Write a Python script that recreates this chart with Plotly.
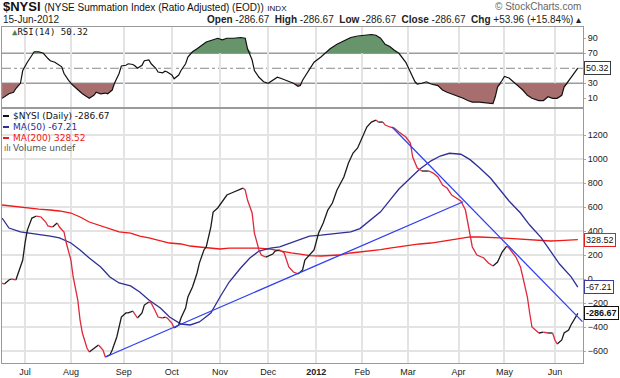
import plotly.graph_objects as go

# ---------------- data ----------------
price_dates = ["2011-06-17","2011-06-20","2011-06-22","2011-06-23","2011-06-27","2011-06-28","2011-06-30",
"2011-07-01","2011-07-05","2011-07-07","2011-07-11","2011-07-13","2011-07-15","2011-07-18","2011-07-20","2011-07-22",
"2011-07-25","2011-07-27","2011-07-28","2011-08-01","2011-08-02","2011-08-04","2011-08-05","2011-08-08","2011-08-10",
"2011-08-11","2011-08-15","2011-08-17","2011-08-19","2011-08-22","2011-08-24","2011-08-25","2011-08-29","2011-08-31",
"2011-09-02","2011-09-06","2011-09-08","2011-09-09","2011-09-12","2011-09-14","2011-09-15","2011-09-19","2011-09-20",
"2011-09-22","2011-09-23","2011-09-27","2011-09-28","2011-09-29","2011-10-03","2011-10-04","2011-10-06","2011-10-07",
"2011-10-11","2011-10-12","2011-10-14","2011-10-18","2011-10-19","2011-10-21","2011-10-24","2011-10-26","2011-10-27",
"2011-10-31","2011-11-02","2011-11-04","2011-11-08","2011-11-10","2011-11-15","2011-11-16","2011-11-17","2011-11-21",
"2011-11-22","2011-11-25","2011-11-28","2011-11-30","2011-12-05","2011-12-06","2011-12-08","2011-12-12","2011-12-13",
"2011-12-14","2011-12-16","2011-12-20","2011-12-22","2011-12-23","2011-12-28","2011-12-30","2012-01-04","2012-01-06",
"2012-01-10","2012-01-12","2012-01-17","2012-01-20","2012-01-24","2012-01-26","2012-01-30","2012-02-01","2012-02-03",
"2012-02-07","2012-02-09","2012-02-10","2012-02-14","2012-02-15","2012-02-17","2012-02-22","2012-02-24","2012-02-29",
"2012-03-02","2012-03-05","2012-03-07","2012-03-09","2012-03-14","2012-03-16","2012-03-20","2012-03-22","2012-03-26",
"2012-03-28","2012-03-30","2012-04-03","2012-04-05","2012-04-09","2012-04-10","2012-04-11","2012-04-13","2012-04-18",
"2012-04-20","2012-04-24","2012-04-26","2012-04-30","2012-05-02","2012-05-03","2012-05-08","2012-05-10","2012-05-11",
"2012-05-15","2012-05-16","2012-05-17","2012-05-22","2012-05-24","2012-05-29","2012-05-31","2012-06-01","2012-06-04",
"2012-06-06","2012-06-07","2012-06-11","2012-06-12","2012-06-14","2012-06-15"]
price_vals = [-33,-42,-8,0,-8,50,158,
300,408,508,525,517,475,442,433,467,
433,392,300,158,17,-175,-342,-450,-575,
-608,-575,-550,-592,-650,-633,-592,-483,-317,
-283,-283,-267,-300,-325,-283,-217,-192,-200,
-275,-317,-325,-317,-325,-367,-408,-383,-325,
-242,-150,-67,50,133,242,267,433,558,
592,642,700,717,733,758,742,658,550,
383,242,200,183,208,233,242,217,158,
100,58,42,75,158,200,242,383,467,
575,633,742,850,967,1050,1092,1183,1267,
1308,1325,1308,1308,1283,1267,1258,1225,1183,
1133,1017,925,900,900,883,850,783,758,
700,675,650,575,467,350,267,200,175,
133,108,142,225,275,258,183,100,17,
-150,-283,-400,-450,-442,-450,-450,-508,-542,
-508,-450,-425,-383,-325,-286.67]

ma_dates = ["2011-06-17","2011-06-22","2011-06-29","2011-07-06","2011-07-12","2011-07-19","2011-07-25",
"2011-08-01","2011-08-05","2011-08-11","2011-08-18","2011-08-24","2011-08-30","2011-09-07","2011-09-13",
"2011-09-19","2011-09-26","2011-09-30","2011-10-07","2011-10-13","2011-10-19","2011-10-26","2011-11-01",
"2011-11-07","2011-11-14","2011-11-18","2011-11-25","2011-12-02","2011-12-08","2011-12-15","2011-12-21",
"2011-12-28","2012-01-05","2012-01-11","2012-01-18","2012-01-25","2012-01-31","2012-02-06","2012-02-13",
"2012-02-17","2012-02-24","2012-03-02","2012-03-08","2012-03-15","2012-03-21","2012-03-27","2012-04-03",
"2012-04-10","2012-04-16","2012-04-23","2012-04-27","2012-05-03","2012-05-10","2012-05-16","2012-05-23",
"2012-05-30","2012-06-05","2012-06-12","2012-06-15"]
ma50_vals = [508,425,392,383,375,358,342,300,242,175,
100,17,-33,-58,-108,-175,-242,-317,-375,-383,
-358,-283,-150,-25,92,175,233,258,267,300,
333,358,365,375,383,392,420,480,560,655,
750,842,915,985,1025,1048,1040,995,930,840,
745,650,550,450,345,235,125,20,-67.21]
ma200_vals = [617,610,600,592,583,575,567,550,517,475,
442,417,392,383,358,342,317,300,292,275,
267,258,250,258,258,258,258,250,233,217,
208,195,192,195,200,217,225,233,245,258,
270,283,292,300,312,325,342,352,350,348,
343,338,333,328,320,317,320,325,328.52]

rsi_dates = ["2011-06-17","2011-06-20","2011-06-22","2011-06-24","2011-06-27","2011-06-29","2011-06-30",
"2011-07-05","2011-07-07","2011-07-08","2011-07-12","2011-07-14","2011-07-18","2011-07-19","2011-07-21",
"2011-07-22","2011-07-26","2011-07-27","2011-07-29","2011-08-02","2011-08-04","2011-08-08","2011-08-10",
"2011-08-11","2011-08-15","2011-08-16","2011-08-18","2011-08-22","2011-08-23","2011-08-25","2011-08-26",
"2011-08-30","2011-08-31","2011-09-02","2011-09-06","2011-09-08","2011-09-09","2011-09-12","2011-09-14",
"2011-09-15","2011-09-19","2011-09-20","2011-09-22","2011-09-23","2011-09-27","2011-09-28","2011-09-29",
"2011-10-03","2011-10-04","2011-10-06","2011-10-07","2011-10-11","2011-10-12","2011-10-14","2011-10-18",
"2011-10-20","2011-10-24","2011-10-26","2011-10-31","2011-11-02","2011-11-04","2011-11-09","2011-11-14",
"2011-11-16","2011-11-17","2011-11-21","2011-11-22","2011-11-25","2011-11-29","2011-12-01","2011-12-05",
"2011-12-07","2011-12-09","2011-12-14","2011-12-16","2011-12-20","2011-12-21","2011-12-22","2011-12-27",
"2011-12-28","2011-12-30","2012-01-05","2012-01-09","2012-01-11","2012-01-17","2012-01-20","2012-01-25",
"2012-01-30","2012-02-02","2012-02-07","2012-02-09","2012-02-13","2012-02-15","2012-02-17","2012-02-22",
"2012-02-24","2012-02-29","2012-03-02","2012-03-06","2012-03-07","2012-03-09","2012-03-13","2012-03-15",
"2012-03-20","2012-03-22","2012-03-26","2012-03-28","2012-03-30","2012-04-04","2012-04-09","2012-04-11",
"2012-04-16","2012-04-19","2012-04-24","2012-04-25","2012-04-26","2012-04-30","2012-05-01","2012-05-03",
"2012-05-07","2012-05-09","2012-05-11","2012-05-15","2012-05-17","2012-05-22","2012-05-24","2012-05-29",
"2012-05-31","2012-06-04","2012-06-06","2012-06-07","2012-06-11","2012-06-13","2012-06-15"]
rsi_vals = [10,12,16,18,23,30,47,
58,67,72,72,70,63,60,58,
56,52,43,34,27,21,16,12,
10,14,18,16,17,16,21,30,
43,53,54,56,55,53,50,54,
60,61,56,50,45,44,46,45,
41,36,41,47,56,65,72,76,
81,85,87,90,88,90,90,91,
90,76,61,47,38,32,30,34,
38,36,32,30,26,27,34,43,
48,58,65,70,76,82,87,91,
93,94,95,94,90,82,79,74,
70,58,45,32,29,30,32,29,
27,21,18,16,14,10,7,5,
5,4,3,12,25,34,39,37,
32,27,21,14,10,7,7,12,
10,10,14,25,34,43,50.32]

trend1_dates = ["2011-08-22", "2012-04-04"]
trend1_vals = [-650, 644]
trend2_dates = ["2012-02-21", "2012-06-19"]
trend2_vals = [1267, -355]

month_ticks = ["2011-07-01","2011-08-01","2011-09-01","2011-10-03","2011-11-01","2011-12-01",
               "2012-01-03","2012-02-01","2012-03-01","2012-04-02","2012-05-01","2012-06-01"]
month_labels = ["Jul","Aug","Sep","Oct","Nov","Dec","<b>2012</b>","Feb","Mar","Apr","May","Jun"]
holidays = ["2011-07-04","2011-09-05","2011-11-24","2011-12-26","2012-01-02","2012-01-16",
            "2012-02-20","2012-04-06","2012-05-28"]
price_ticks = [-600,-400,-200,0,200,400,600,800,1000,1200]
rsi_ticks = [10,30,70,90]

# ---------------- styling ----------------
UP = "#1c1c1c"
DN = "#e0283c"
MA50C = "#2e2e96"
MA200C = "#f01818"
TRENDC = "#3040f0"
GRID = "#e3e3e3"
FRAME = "#9a9a9a"
SANS = "Liberation Sans, Arial, sans-serif"

xr = ["2011-06-16 23:00", "2012-06-19 06:00"]
rb = [dict(bounds=["sat", "mon"]), dict(values=holidays)]

fig = go.Figure()

# price split by direction (black rising, red falling)
ux, uy, dx, dy = [], [], [], []
last_up_end = None
last_dn_end = None
for i in range(len(price_vals) - 1):
    rising = price_vals[i + 1] >= price_vals[i]
    if rising:
        if last_up_end != i:
            if ux:
                ux.append(None); uy.append(None)
            ux.append(price_dates[i]); uy.append(price_vals[i])
        ux.append(price_dates[i + 1]); uy.append(price_vals[i + 1])
        last_up_end = i + 1
    else:
        if last_dn_end != i:
            if dx:
                dx.append(None); dy.append(None)
            dx.append(price_dates[i]); dy.append(price_vals[i])
        dx.append(price_dates[i + 1]); dy.append(price_vals[i + 1])
        last_dn_end = i + 1

fig.add_trace(go.Scatter(x=ma_dates, y=ma200_vals, mode="lines",
                         line=dict(color=MA200C, width=1.3), xaxis="x", yaxis="y"))
fig.add_trace(go.Scatter(x=ma_dates, y=ma50_vals, mode="lines",
                         line=dict(color=MA50C, width=1.3), xaxis="x", yaxis="y"))
fig.add_trace(go.Scatter(x=ux, y=uy, mode="lines", connectgaps=False,
                         line=dict(color=UP, width=1.3), xaxis="x", yaxis="y"))
fig.add_trace(go.Scatter(x=dx, y=dy, mode="lines", connectgaps=False,
                         line=dict(color=DN, width=1.3), xaxis="x", yaxis="y"))
fig.add_trace(go.Scatter(x=trend1_dates, y=trend1_vals, mode="lines",
                         line=dict(color=TRENDC, width=1.3), xaxis="x", yaxis="y"))
fig.add_trace(go.Scatter(x=trend2_dates, y=trend2_vals, mode="lines",
                         line=dict(color=TRENDC, width=1.3), xaxis="x", yaxis="y"))

# RSI fills
rsi_hi = [max(v, 70) for v in rsi_vals]
rsi_lo = [min(v, 30) for v in rsi_vals]
fig.add_trace(go.Scatter(x=rsi_dates, y=[70] * len(rsi_dates), mode="lines",
                         line=dict(width=0), xaxis="x2", yaxis="y2"))
fig.add_trace(go.Scatter(x=rsi_dates, y=rsi_hi, mode="lines", fill="tonexty",
                         fillcolor="#67946a", line=dict(width=0), xaxis="x2", yaxis="y2"))
fig.add_trace(go.Scatter(x=rsi_dates, y=[30] * len(rsi_dates), mode="lines",
                         line=dict(width=0), xaxis="x2", yaxis="y2"))
fig.add_trace(go.Scatter(x=rsi_dates, y=rsi_lo, mode="lines", fill="tonexty",
                         fillcolor="#a86e6e", line=dict(width=0), xaxis="x2", yaxis="y2"))
fig.add_trace(go.Scatter(x=rsi_dates, y=rsi_vals, mode="lines",
                         line=dict(color="#111111", width=1.2), xaxis="x2", yaxis="y2"))

# reference levels in RSI panel
for lvl, dash, col, w in [(70, "solid", "#9c9c9c", 1.6), (30, "solid", "#9c9c9c", 1.6), (50, "dashdot", "#8a8a8a", 1)]:
    fig.add_shape(type="line", xref="x2 domain", yref="y2", x0=0, x1=1, y0=lvl, y1=lvl,
                  line=dict(color=col, width=w, dash=dash), layer="below")

axis_common = dict(type="date", range=xr, rangebreaks=rb, tickvals=month_ticks,
                   showgrid=True, gridcolor=GRID, gridwidth=1.5, showline=True,
                   linecolor=FRAME, linewidth=1, mirror=True, zeroline=False, automargin=False)

H_TOP, H_BOT = 27, 15
PH = 378 - H_TOP - H_BOT
def py(p):
    return (378 - H_BOT - p) / PH
def px(p):
    return (p - 2) / 581

fig.update_layout(
    width=620, height=378,
    margin=dict(l=2, r=37, t=H_TOP, b=H_BOT, autoexpand=False),
    paper_bgcolor="white", plot_bgcolor="white", showlegend=False,
    xaxis=dict(axis_common, anchor="y", ticktext=month_labels, ticks="",
               tickfont=dict(family=SANS, size=9, color="#222")),
    xaxis2=dict(axis_common, anchor="y2", showticklabels=False),
    yaxis=dict(domain=[0, py(109)], range=[-700, 1417], side="right", tickvals=price_ticks,
               showgrid=True, gridcolor=GRID, gridwidth=1.5, zeroline=False, automargin=False,
               showline=True, linecolor=FRAME, mirror=True, ticks="outside", ticklen=2,
               tickcolor="#aaa", tickfont=dict(family=SANS, size=9, color="#222")),
    yaxis2=dict(domain=[py(107), 1], range=[-1.6, 105], side="right", tickvals=rsi_ticks,
                showgrid=False, zeroline=False, showline=True, linecolor=FRAME, mirror=True,
                ticks="outside", ticklen=2, tickcolor="#aaa", automargin=False,
                tickfont=dict(family=SANS, size=9, color="#222")),
)

ann = []
# header
ann.append(dict(xref="paper", yref="paper", x=px(1), y=py(7), xanchor="left", yanchor="middle",
                text="<b>$NYSI</b> <span style='font-size:10px'>(NYSE Summation Index (Ratio Adjusted) (EOD))</span> <span style='font-size:8px'>INDX</span>",
                showarrow=False, font=dict(family=SANS, size=13, color="#111")))
ann.append(dict(xref="paper", yref="paper", x=px(1), y=py(19), xanchor="left", yanchor="middle",
                text="15-Jun-2012", showarrow=False, font=dict(family=SANS, size=10, color="#222")))
ann.append(dict(xref="paper", yref="paper", x=px(583), y=py(19), xanchor="right", yanchor="middle",
                text="<b>Open</b> -286.67  <b>High</b> -286.67  <b>Low</b> -286.67  <b>Close</b> -286.67  <b>Chg</b> +53.96 (+15.84%) ▴",
                showarrow=False, font=dict(family=SANS, size=10, color="#222")))
ann.append(dict(xref="paper", yref="paper", x=px(583), y=py(6), xanchor="right", yanchor="middle",
                text="© StockCharts.com", showarrow=False, font=dict(family=SANS, size=10, color="#666")))
# RSI label
ann.append(dict(xref="paper", yref="paper", x=px(10), y=py(32), xanchor="left", yanchor="middle",
                text="<span style='color:#4f7f4f'>▲</span>RSI(14) 50.32", showarrow=False,
                font=dict(family="DejaVu Sans Mono, monospace", size=9, color="#111")))
# main legend
leg = [("$NYSI (Daily) -286.67", "#111", 116), ("MA(50) -67.21", MA50C, 127),
       ("MA(200) 328.52", MA200C, 138), ("Volume undef", "#555", 148)]
for txt, col, yy in leg:
    ann.append(dict(xref="paper", yref="paper", x=px(11), y=py(yy), xanchor="left", yanchor="middle",
                    text=txt, showarrow=False, font=dict(family="DejaVu Sans, sans-serif", size=9, color=col)))
for col, yy in [("#111", 116), (MA50C, 127), (MA200C, 138)]:
    fig.add_shape(type="line", xref="paper", yref="paper", x0=px(3), x1=px(9), y0=py(yy), y1=py(yy),
                  line=dict(color=col, width=2))
ann.append(dict(xref="paper", yref="paper", x=px(2), y=py(148), xanchor="left", yanchor="middle",
                text="ılı", showarrow=False, font=dict(family="DejaVu Sans, sans-serif", size=8, color="#555")))
# value tags
tags = [("y", -286.67, "<b>-286.67</b>", "#111"), ("y", -67.21, "-67.21", "#3a3aa0"),
        ("y", 328.52, "328.52", "#e02020"), ("y2", 50.32, "50.32", "#3a3a3a")]
for yref, val, txt, col in tags:
    ann.append(dict(xref="paper", yref=yref, x=1, y=val, xanchor="left", yanchor="middle", xshift=1,
                    text=txt, showarrow=False, bgcolor="white", bordercolor=col, borderwidth=1,
                    borderpad=1, font=dict(family=SANS, size=9, color="#111")))
fig.update_layout(annotations=ann)

fig.write_html("out.html", config={"displayModeBar": False},
               post_script="document.body.style.margin='0px';document.body.style.overflow='hidden';")
